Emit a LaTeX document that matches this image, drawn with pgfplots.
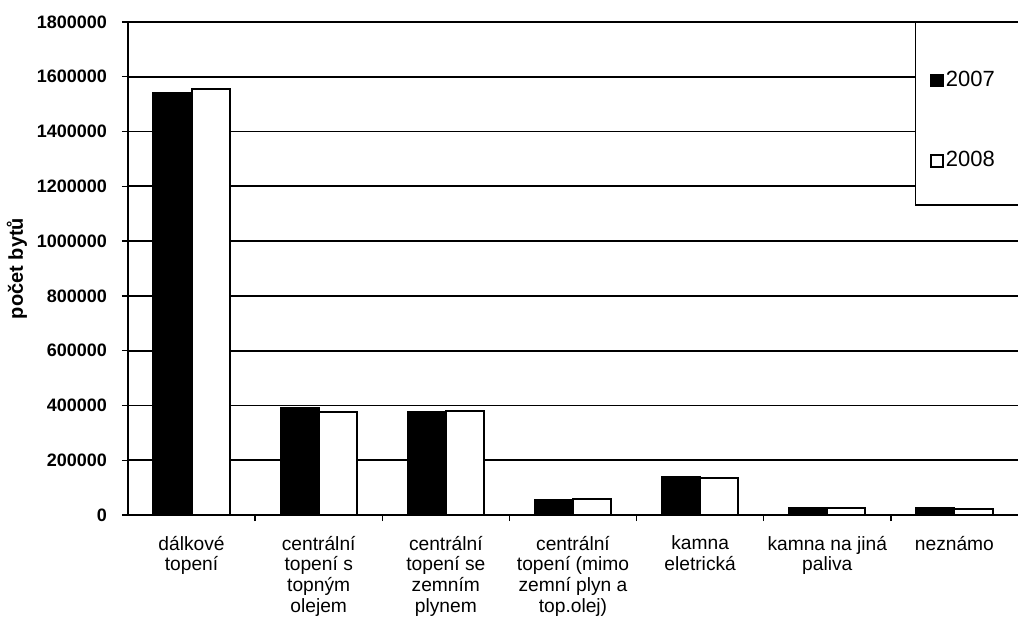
\documentclass[border=0pt]{standalone}
\usepackage{fontspec}
\setmainfont{Liberation Sans}
\usepackage{pgfplots}
\pgfplotsset{compat=1.18}

\begin{document}
\begin{tikzpicture}
\path[use as bounding box] (-64pt,-54pt) rectangle (445pt,257.5pt);
\begin{axis}[
    at={(0,0)}, anchor=south west,
    scale only axis,
    width=445pt, height=246.5pt,
    ybar=0pt, bar width=0.3,
    xmin=0.5, xmax=7.5,
    ymin=0, ymax=1800000,
    ytick distance=200000,
    scaled y ticks=false,
    axis x line*=bottom, axis y line*=left,
    axis line style={line width=0.9pt, -},
    ymajorgrids=true,
    grid style={black, line width=0.9pt},
    tick align=outside,
    major tick length=3pt,
    tick style={black, line width=0.7pt},
    xtick={1.5,2.5,...,6.5},
    xticklabels={},
    extra x ticks={1,2,3,4,5,6,7},
    extra x tick labels={dálkové\\topení, centrální\\topení s\\topným\\olejem,
        centrální\\topení se\\zemním\\plynem, centrální\\topení (mimo\\zemní plyn a\\top.olej),
        kamna\\eletrická, kamna na jiná\\paliva, neznámo},
    extra x tick style={major tick length=0pt, grid=none},
    x tick label style={align=center, font=\fontsize{9.6}{10.3}\selectfont, yshift=-7pt},
    y tick label style={font=\bfseries\fontsize{9}{10}\selectfont, xshift=-4pt},
    yticklabel style={/pgf/number format/.cd, fixed, 1000 sep={}, assume math mode=true},
    ylabel={\bfseries počet bytů},
    ylabel style={font=\fontsize{10}{11}\selectfont, yshift=-2pt},
    clip=false,
    legend image code/.code={\draw[#1, line width=0.8pt] (0pt,-3pt) rectangle (6pt,3pt);},
    legend style={at={(rel axis cs:0.901,0.800)}, anchor=west, draw=none, fill=none,
        font=\fontsize{11}{12}\selectfont, row sep=27pt, inner xsep=0pt,
        nodes={inner xsep=1pt}},
    legend cell align=left,
]
\draw[black, line width=0.8pt, fill=white] (rel axis cs:0.885,1) rectangle (rel axis cs:1.1,0.629);
\addplot[fill=black, draw=black, line width=1pt] coordinates {
    (1,1540000) (2,390000) (3,375000) (4,55000) (5,140000) (6,27000) (7,24000)};
\addlegendentry{2007}
\addplot[fill=white, draw=black, line width=1pt] coordinates {
    (1,1555000) (2,377000) (3,380000) (4,59000) (5,136000) (6,25000) (7,21000)};
\addlegendentry{2008}
\end{axis}
\end{tikzpicture}
\end{document}
